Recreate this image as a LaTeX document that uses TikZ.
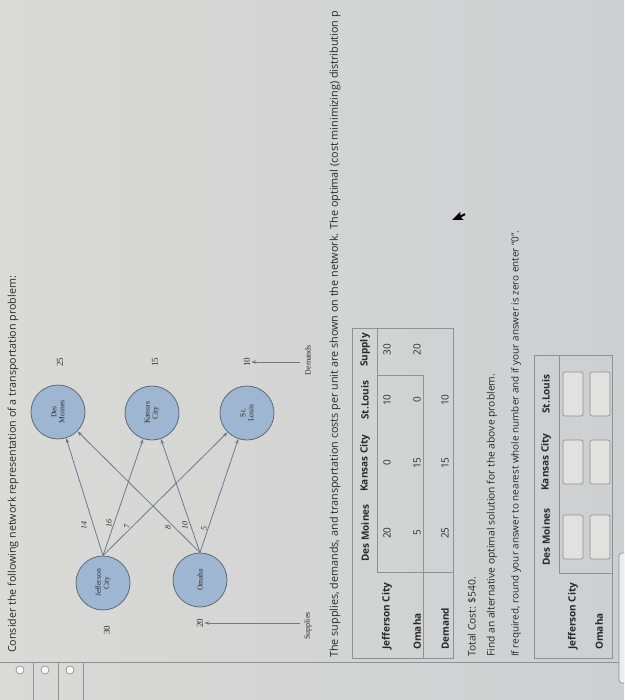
\documentclass[tikz,border=0pt]{standalone}
\usepackage{fontspec}
\setmainfont{Open Sans}
\newfontfamily\figfont{Liberation Serif}
\usetikzlibrary{arrows.meta}
\definecolor{bgA}{HTML}{DADAD7}
\definecolor{bgB}{HTML}{CDCFD1}
\definecolor{cityfill}{HTML}{9FB6D2}
\definecolor{cityline}{HTML}{5F6A76}
\definecolor{edgecol}{HTML}{6C7B8C}
\definecolor{ink}{HTML}{2A2A2A}
\definecolor{rule}{HTML}{8E9196}
\tikzset{
  city/.style={circle, draw=cityline, fill=cityfill, line width=0.8pt, minimum size=54pt, inner sep=0pt, align=center, font=\figfont\fontsize{7.6}{8}\selectfont, text=ink},
  edge/.style={draw=edgecol, line width=0.8pt, -{Stealth[length=5pt,width=3.5pt]}},
  fignum/.style={font=\figfont\fontsize{9}{9.5}\selectfont, text=ink, inner sep=1pt},
  elab/.style={font=\figfont\itshape\fontsize{8}{8.5}\selectfont, text=ink, inner sep=0pt},
  ui/.style={font=\fontsize{10.3}{12}\selectfont, text=ink, anchor=west, inner sep=0pt},
  uib/.style={font=\bfseries\fontsize{10}{12}\selectfont, text=ink, inner sep=0pt},
  cell/.style={font=\fontsize{10}{12}\selectfont, text=ink, inner sep=0pt},
  rulel/.style={draw=rule, line width=0.7pt},
  radio/.style={circle, draw=rule, fill=white!85!bgA, line width=0.7pt, minimum size=8pt, inner sep=0pt},
  inbox/.style={draw=rule, fill=bgA!80!white, rounded corners=2pt, line width=0.7pt, minimum width=44pt, minimum height=20pt, inner sep=0pt},
}
\begin{document}
\begin{tikzpicture}[x=1pt,y=1pt]
\useasboundingbox (0,-700) rectangle (624,0);
\clip (0,-700) rectangle (624,0);
\shade[left color=bgA, right color=bgB] (0,-700) rectangle (624,0);
\begin{scope}[shift={(0,-700)}, rotate=90, transform shape]
  % left column
  \draw[rulel] (38,0) -- (38,-624);
  \foreach \v in {33,58,83} \draw[rulel] (0,-\v) -- (38,-\v);
  \node[radio] (r1) at (30,-20) {};
  \node[radio] (r2) at (30,-45) {};
  \node[radio] (r3) at (30,-70) {};
  % intro text
  \node[ui, font=\fontsize{10.7}{12}\selectfont] (intro) at (47,-13) {Consider the following network representation of a transportation problem:};
  % network
  \node[city] (jc) at (117,-103) {Jefferson\\City};
  \node[city] (om) at (120,-200) {Omaha};
  \node[city] (dm) at (288,-58) {Des\\Moines};
  \node[city] (kc) at (287,-152) {Kansas\\City};
  \node[city] (sl) at (287,-247) {St.\\Louis};
  \draw[edge] (jc.east) -- (dm);
  \draw[edge] (jc.east) -- (kc);
  \draw[edge] (jc.east) -- (sl);
  \draw[edge] (om.east) -- (dm);
  \draw[edge] (om.east) -- (kc);
  \draw[edge] (om.east) -- (sl);
  \node[elab] (l14) at (175,-84) {14};
  \node[elab] (l16) at (177,-109) {16};
  \node[elab] (l7)  at (174,-127) {7};
  \node[elab] (l8)  at (173,-168) {8};
  \node[elab] (l10) at (175,-185) {10};
  \node[elab] (l5)  at (172,-204) {5};
  % supplies and demands
  \node[fignum] (s30) at (70,-107) {30};
  \node[fignum] (s20) at (77,-200) {20};
  \node[fignum] (d25) at (338,-60) {25};
  \node[fignum] (d15) at (338,-155) {15};
  \node[fignum] (d10) at (338,-247) {10};
  \node[fignum, font=\figfont\fontsize{8}{8.5}\selectfont] (supl) at (74,-308) {Supplies};
  \node[fignum, font=\figfont\fontsize{8}{8.5}\selectfont] (dem) at (340,-308) {Demands};
  \coordinate (supA) at (77,-300);
  \coordinate (demA) at (338,-300);
  \draw[edge] (supA) -- (s20);
  \draw[edge] (demA) -- (d10);
  % text
  \node[ui, font=\fontsize{10.8}{12}\selectfont] (t2) at (42,-335) {The supplies, demands, and transportation costs per unit are shown on the network. The optimal (cost minimizing) distribution p};
  % table 1
  \draw[rulel] (42,-352) rectangle (372,-453);
  \draw[rulel] (128,-377) -- (372,-377);
  \draw[rulel] (128,-377) -- (128,-453);
  \draw[rulel] (42,-423) -- (325,-423);
  \draw[rulel] (325,-377) -- (325,-423);
  \node[uib] (h1) at (167,-365) {Des Moines};
  \node[uib] (h2) at (237,-365) {Kansas City};
  \node[uib] (h3) at (300,-365) {St.Louis};
  \node[uib] (h4) at (350,-365) {Supply};
  \node[uib, anchor=west] (rj) at (50,-387) {Jefferson City};
  \node[uib, anchor=west] (ro) at (50,-417) {Omaha};
  \node[uib, anchor=west] (rd) at (50,-445) {Demand};
  \node[cell] at (167,-387) {20};
  \node[cell] at (237,-387) {0};
  \node[cell] at (300,-387) {10};
  \node[cell] at (350,-387) {30};
  \node[cell] at (167,-417) {5};
  \node[cell] at (237,-417) {15};
  \node[cell] at (300,-417) {0};
  \node[cell] at (350,-417) {20};
  \node[cell] at (167,-445) {25};
  \node[cell] at (237,-445) {15};
  \node[cell] at (300,-445) {10};
  \node[ui] (tc) at (43,-472) {Total Cost: \$540.};
  \node[ui] (fa) at (43,-492) {Find an alternative optimal solution for the above problem.};
  \node[ui, font=\fontsize{9.9}{12}\selectfont] (ir) at (43,-516) {If required, round your answer to nearest whole number and if your answer is zero enter ``0''.};
  % table 2
  \draw[rulel] (42,-534) rectangle (345,-612);
  \draw[rulel] (127,-559) -- (345,-559);
  \draw[rulel] (127,-559) -- (127,-612);
  \node[uib] (g1) at (163,-546) {Des Moines};
  \node[uib] (g2) at (238,-546) {Kansas City};
  \node[uib] (g3) at (306,-546) {St.Louis};
  \node[uib, anchor=west] (gj) at (50,-573) {Jefferson City};
  \node[uib, anchor=west] (go) at (50,-599) {Omaha};
  \foreach \u/\n in {163/a,238/b,306/c}{
    \node[inbox] (b1\n) at (\u,-573) {};
    \node[inbox] (b2\n) at (\u,-600) {};
  }
  % partial button
  \draw[rulel, fill=white!60!bgB, rounded corners=3pt] (17,-619) rectangle (147,-650);
  % cursor
  \begin{scope}[shift={(480,-452)}, scale=0.9]
    \fill[black] (0,0) -- (0,-13) -- (3,-10) -- (5.5,-15) -- (7.5,-14) -- (5,-9.2) -- (9,-9.2) -- cycle;
  \end{scope}
\end{scope}
\end{tikzpicture}
\end{document}
